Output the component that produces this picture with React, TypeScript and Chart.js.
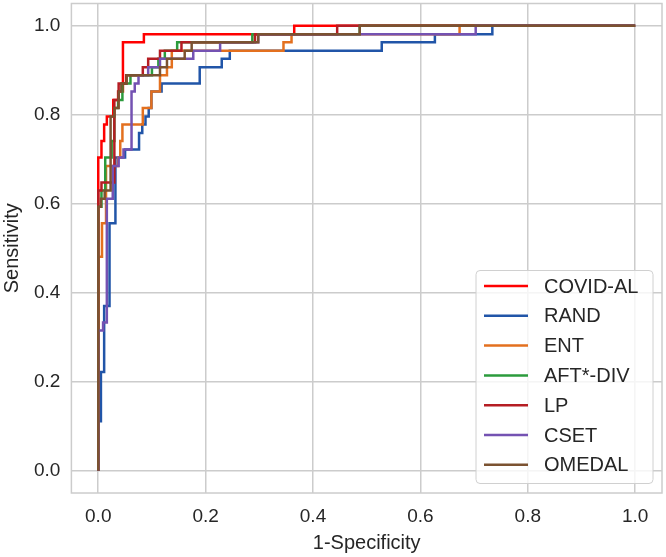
import React, { useEffect, useRef } from 'react';
import { Chart, registerables } from 'chart.js';

Chart.register(...registerables);

// ---- data ----
const SERIES_NAMES = ['COVID-AL', 'RAND', 'ENT', 'AFT*-DIV', 'LP', 'CSET', 'OMEDAL'];
const SERIES_COLORS = ['#ff0000', '#2155a8', '#e3701f', '#2b9b3c', '#b51d23', '#7452b2', '#7b5231'];
const AXIS_TICKS = [0, 0.2, 0.4, 0.6, 0.8, 1.0];

// Each curve: FPR where TPR jumps, and the TPR reached after that jump
const COVID_AL_FPR = [0, 0.006, 0.011, 0.016, 0.028, 0.037, 0.046, 0.085, 0.365];
const COVID_AL_TPR = [0.704, 0.741, 0.778, 0.796, 0.833, 0.852, 0.963, 0.981, 1.0];

const RAND_FPR = [0, 0.005, 0.011, 0.021, 0.032, 0.05, 0.076, 0.082, 0.088, 0.094, 0.099, 0.118, 0.189, 0.23, 0.245, 0.528, 0.627, 0.734];
const RAND_TPR = [0.111, 0.222, 0.370, 0.556, 0.704, 0.722, 0.759, 0.778, 0.796, 0.815, 0.852, 0.870, 0.907, 0.926, 0.944, 0.963, 0.981, 1.0];

const ENT_FPR = [0, 0.007, 0.0145, 0.037, 0.041, 0.045, 0.083, 0.099, 0.115, 0.128, 0.137, 0.345, 0.36, 0.673];
const ENT_TPR = [0.481, 0.556, 0.685, 0.704, 0.741, 0.778, 0.815, 0.852, 0.889, 0.907, 0.944, 0.963, 0.981, 1.0];

const AFT_DIV_FPR = [0, 0.006, 0.013, 0.025, 0.03, 0.037, 0.045, 0.06, 0.1, 0.112, 0.124, 0.147, 0.287, 0.487];
const AFT_DIV_TPR = [0.593, 0.630, 0.704, 0.741, 0.815, 0.833, 0.870, 0.889, 0.907, 0.926, 0.944, 0.963, 0.981, 1.0];

const LP_FPR = [0, 0.006, 0.03, 0.038, 0.052, 0.083, 0.093, 0.115, 0.155, 0.292, 0.445];
const LP_TPR = [0.630, 0.648, 0.833, 0.870, 0.889, 0.907, 0.926, 0.944, 0.963, 0.981, 1.0];

const CSET_FPR = [0, 0.009, 0.016, 0.027, 0.038, 0.047, 0.062, 0.068, 0.075, 0.093, 0.115, 0.177, 0.227, 0.298, 0.703];
const CSET_TPR = [0.315, 0.333, 0.611, 0.685, 0.704, 0.722, 0.852, 0.870, 0.889, 0.907, 0.926, 0.944, 0.963, 0.981, 1.0];

const OMEDAL_FPR = [0, 0.005, 0.012, 0.023, 0.03, 0.038, 0.043, 0.053, 0.115, 0.128, 0.161, 0.174, 0.298, 0.487];
const OMEDAL_TPR = [0.593, 0.611, 0.630, 0.796, 0.815, 0.852, 0.870, 0.889, 0.907, 0.926, 0.944, 0.963, 0.981, 1.0];

const ALL_FPR = [COVID_AL_FPR, RAND_FPR, ENT_FPR, AFT_DIV_FPR, LP_FPR, CSET_FPR, OMEDAL_FPR];
const ALL_TPR = [COVID_AL_TPR, RAND_TPR, ENT_TPR, AFT_DIV_TPR, LP_TPR, CSET_TPR, OMEDAL_TPR];

const FONT = '"Liberation Sans", Arial, sans-serif';
const TEXT_COLOR = '#262626';
const GRID_COLOR = '#cccccc';

function buildPoints(fpr: number[], tpr: number[]) {
  const pts = [{ x: 0, y: 0 }];
  for (let i = 0; i < fpr.length; i++) pts.push({ x: fpr[i], y: tpr[i] });
  pts.push({ x: 1, y: 1 });
  return pts;
}

const framePlugin = {
  id: 'frame',
  afterDatasetsDraw(chart: any) {
    const { ctx, chartArea } = chart;
    ctx.save();
    ctx.strokeStyle = GRID_COLOR;
    ctx.lineWidth = 1.5;
    ctx.strokeRect(chartArea.left, chartArea.top, chartArea.right - chartArea.left, chartArea.bottom - chartArea.top);
    ctx.restore();
  },
};

const legendPlugin = {
  id: 'insideLegend',
  afterDraw(chart: any) {
    const { ctx } = chart;
    const datasets = chart.data.datasets;
    const boxX = 476, boxY = 270.5, boxW = 177, boxH = 213;
    ctx.save();
    ctx.beginPath();
    if (ctx.roundRect) ctx.roundRect(boxX, boxY, boxW, boxH, 4);
    else ctx.rect(boxX, boxY, boxW, boxH);
    ctx.fillStyle = 'rgba(255,255,255,0.8)';
    ctx.fill();
    ctx.strokeStyle = '#d0d0d0';
    ctx.lineWidth = 1;
    ctx.stroke();
    ctx.font = `20px ${FONT}`;
    ctx.textBaseline = 'middle';
    ctx.textAlign = 'left';
    datasets.forEach((ds: any, i: number) => {
      const y = 286 + i * 29.8;
      ctx.beginPath();
      ctx.strokeStyle = ds.borderColor;
      ctx.lineWidth = 2.5;
      ctx.moveTo(484, y);
      ctx.lineTo(528, y);
      ctx.stroke();
      ctx.fillStyle = TEXT_COLOR;
      ctx.fillText(ds.label, 544, y + 1);
    });
    ctx.restore();
  },
};

export default function App() {
  const canvasRef = useRef<HTMLCanvasElement | null>(null);

  useEffect(() => {
    if (!canvasRef.current) return;
    const n = SERIES_NAMES.length;
    const datasets = SERIES_NAMES.map((name, i) => ({
      label: name,
      data: buildPoints(ALL_FPR[i], ALL_TPR[i]),
      borderColor: SERIES_COLORS[i],
      backgroundColor: SERIES_COLORS[i],
      borderWidth: 2.5,
      pointRadius: 0,
      fill: false,
      stepped: 'before' as const,
      order: n - 1 - i,
    }));

    const tickSetter = (scale: any) => {
      scale.ticks = AXIS_TICKS.map((v) => ({ value: v }));
    };

    const chart = new Chart(canvasRef.current, {
      type: 'line',
      data: { datasets },
      options: {
        animation: false,
        responsive: false,
        devicePixelRatio: 1,
        layout: { padding: { left: 0, top: 3.5, right: 4, bottom: 0 } },
        plugins: {
          legend: { display: false },
          tooltip: { enabled: false },
        },
        scales: {
          x: {
            type: 'linear',
            min: -0.05,
            max: 1.05,
            afterBuildTicks: tickSetter,
            afterFit: (scale: any) => {
              scale.height = 64;
              scale.paddingLeft = 0;
              scale.paddingRight = 0;
            },
            grid: { color: GRID_COLOR, lineWidth: 1.5, drawTicks: false },
            border: { display: false },
            ticks: {
              padding: 12,
              color: TEXT_COLOR,
              font: { family: FONT, size: 19 },
              callback: (v: any) => Number(v).toFixed(1),
              maxRotation: 0,
            },
            title: {
              display: true,
              text: '1-Specificity',
              color: TEXT_COLOR,
              font: { family: FONT, size: 20 },
              padding: { top: 0, bottom: 2 },
            },
          },
          y: {
            type: 'linear',
            min: -0.05,
            max: 1.05,
            afterBuildTicks: tickSetter,
            afterFit: (scale: any) => {
              scale.width = 71.4;
              scale.paddingTop = 0;
              scale.paddingBottom = 0;
            },
            grid: { color: GRID_COLOR, lineWidth: 1.5, drawTicks: false },
            border: { display: false },
            ticks: {
              padding: 11,
              color: TEXT_COLOR,
              font: { family: FONT, size: 19 },
              callback: (v: any) => Number(v).toFixed(1),
            },
            title: {
              display: true,
              text: 'Sensitivity',
              color: TEXT_COLOR,
              font: { family: FONT, size: 20 },
              padding: 0,
            },
          },
        },
      },
      plugins: [framePlugin, legendPlugin],
    });

    return () => chart.destroy();
  }, []);

  return (
    <div style={{ position: 'fixed', left: 0, top: 0, width: 666, height: 557, background: '#ffffff' }}>
      <canvas ref={canvasRef} width={666} height={557} style={{ display: 'block' }} />
    </div>
  );
}
